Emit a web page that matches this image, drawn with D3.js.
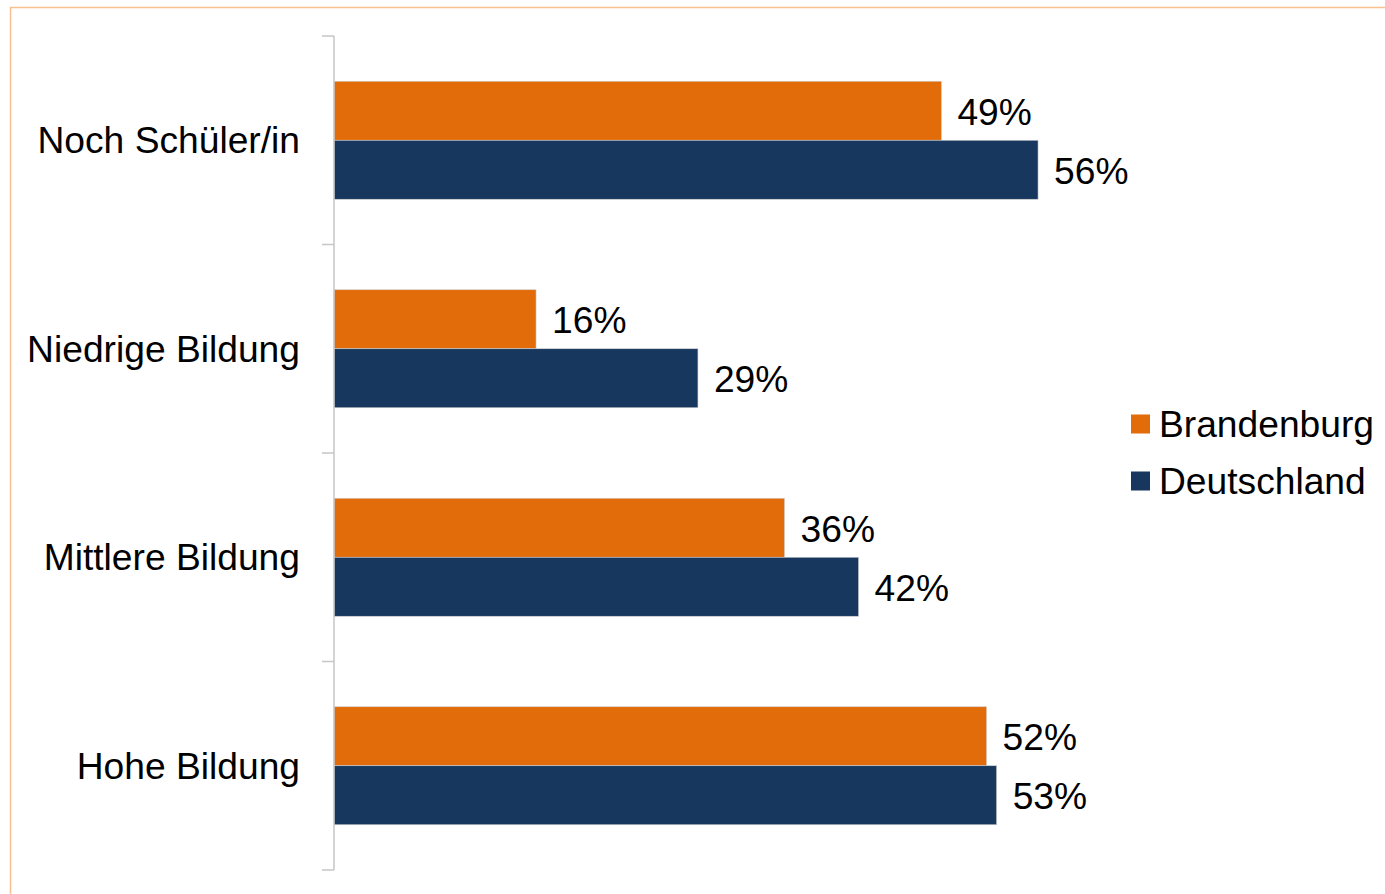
<!DOCTYPE html>
<html><head><meta charset="utf-8">
<script src="https://cdn.jsdelivr.net/npm/d3@7"></script>
<style>html,body{margin:0;padding:0;background:#fff;overflow:hidden}</style>
</head><body>
<script>
const categories = ["Noch Schüler/in", "Niedrige Bildung", "Mittlere Bildung", "Hohe Bildung"];
const seriesNames = ["Brandenburg", "Deutschland"];
const brandenburg = [48.4, 16.1, 35.9, 52.0];
const deutschland = [56.1, 29.0, 41.8, 52.8];
const brandenburgLabels = ["49%", "16%", "36%", "52%"];
const deutschlandLabels = ["56%", "29%", "42%", "53%"];
const colors = ["#e36c0a", "#17375e"];

const W = 1385, H = 894;
const svg = d3.select("body").append("svg").attr("width", W).attr("height", H);
const font = "'Liberation Sans', Arial, sans-serif";
const fs = 37.2;

// outer frame
svg.append("rect").attr("x", 10.5).attr("y", 7.5).attr("width", W + 10).attr("height", H + 10)
  .attr("fill", "none").attr("stroke", "#fac090").attr("stroke-width", 1.5);

const axisX = 334;
const y = d3.scaleBand().domain(categories).range([36, 870]).paddingInner(0.434).paddingOuter(0.217);
const x = d3.scaleLinear().domain([0, 60]).range([axisX, axisX + 60 * 12.55]);
const sub = d3.scaleBand().domain(seriesNames).range([0, y.bandwidth()]);

const series = [
  {name: seriesNames[0], values: brandenburg, labels: brandenburgLabels, color: colors[0]},
  {name: seriesNames[1], values: deutschland, labels: deutschlandLabels, color: colors[1]}
];

series.forEach(s => {
  const g = svg.append("g");
  g.selectAll("rect").data(categories).enter().append("rect")
    .attr("x", x(0))
    .attr("y", (c) => y(c) + sub(s.name))
    .attr("width", (c, i) => x(s.values[i]) - x(0))
    .attr("height", sub.bandwidth())
    .attr("fill", s.color)
    .attr("stroke", "#d0d0d0").attr("stroke-width", 0.6);
  g.selectAll("text").data(categories).enter().append("text")
    .attr("x", (c, i) => x(s.values[i]) + 16)
    .attr("y", (c) => y(c) + sub(s.name) + sub.bandwidth() / 2 + 1)
    .attr("dy", "0.35em")
    .attr("font-family", font).attr("font-size", fs).attr("fill", "#000")
    .text((c, i) => s.labels[i]);
});

// category axis
const step = y.step();
const tickYs = d3.range(categories.length + 1).map(i => 36 + i * step);
svg.append("line").attr("x1", axisX).attr("x2", axisX).attr("y1", 36).attr("y2", 870)
  .attr("stroke", "#c6c6c6").attr("stroke-width", 1.5);
svg.selectAll(".tick").data(tickYs).enter().append("line")
  .attr("x1", 322).attr("x2", axisX).attr("y1", d => d).attr("y2", d => d)
  .attr("stroke", "#c6c6c6").attr("stroke-width", 1.5);
svg.selectAll(".cat").data(categories).enter().append("text")
  .attr("x", 300).attr("y", c => y(c) + y.bandwidth() / 2)
  .attr("dy", "0.35em").attr("text-anchor", "end")
  .attr("font-family", font).attr("font-size", fs).attr("fill", "#000")
  .text(c => c);

// legend
const lg = svg.append("g");
series.forEach((s, i) => {
  const ly = 424 + i * 57;
  lg.append("rect").attr("x", 1131).attr("y", ly - 9.5).attr("width", 19).attr("height", 19).attr("fill", s.color);
  lg.append("text").attr("x", 1159).attr("y", ly).attr("dy", "0.35em")
    .attr("font-family", font).attr("font-size", fs).attr("fill", "#000").text(s.name);
});
</script>
</body></html>
